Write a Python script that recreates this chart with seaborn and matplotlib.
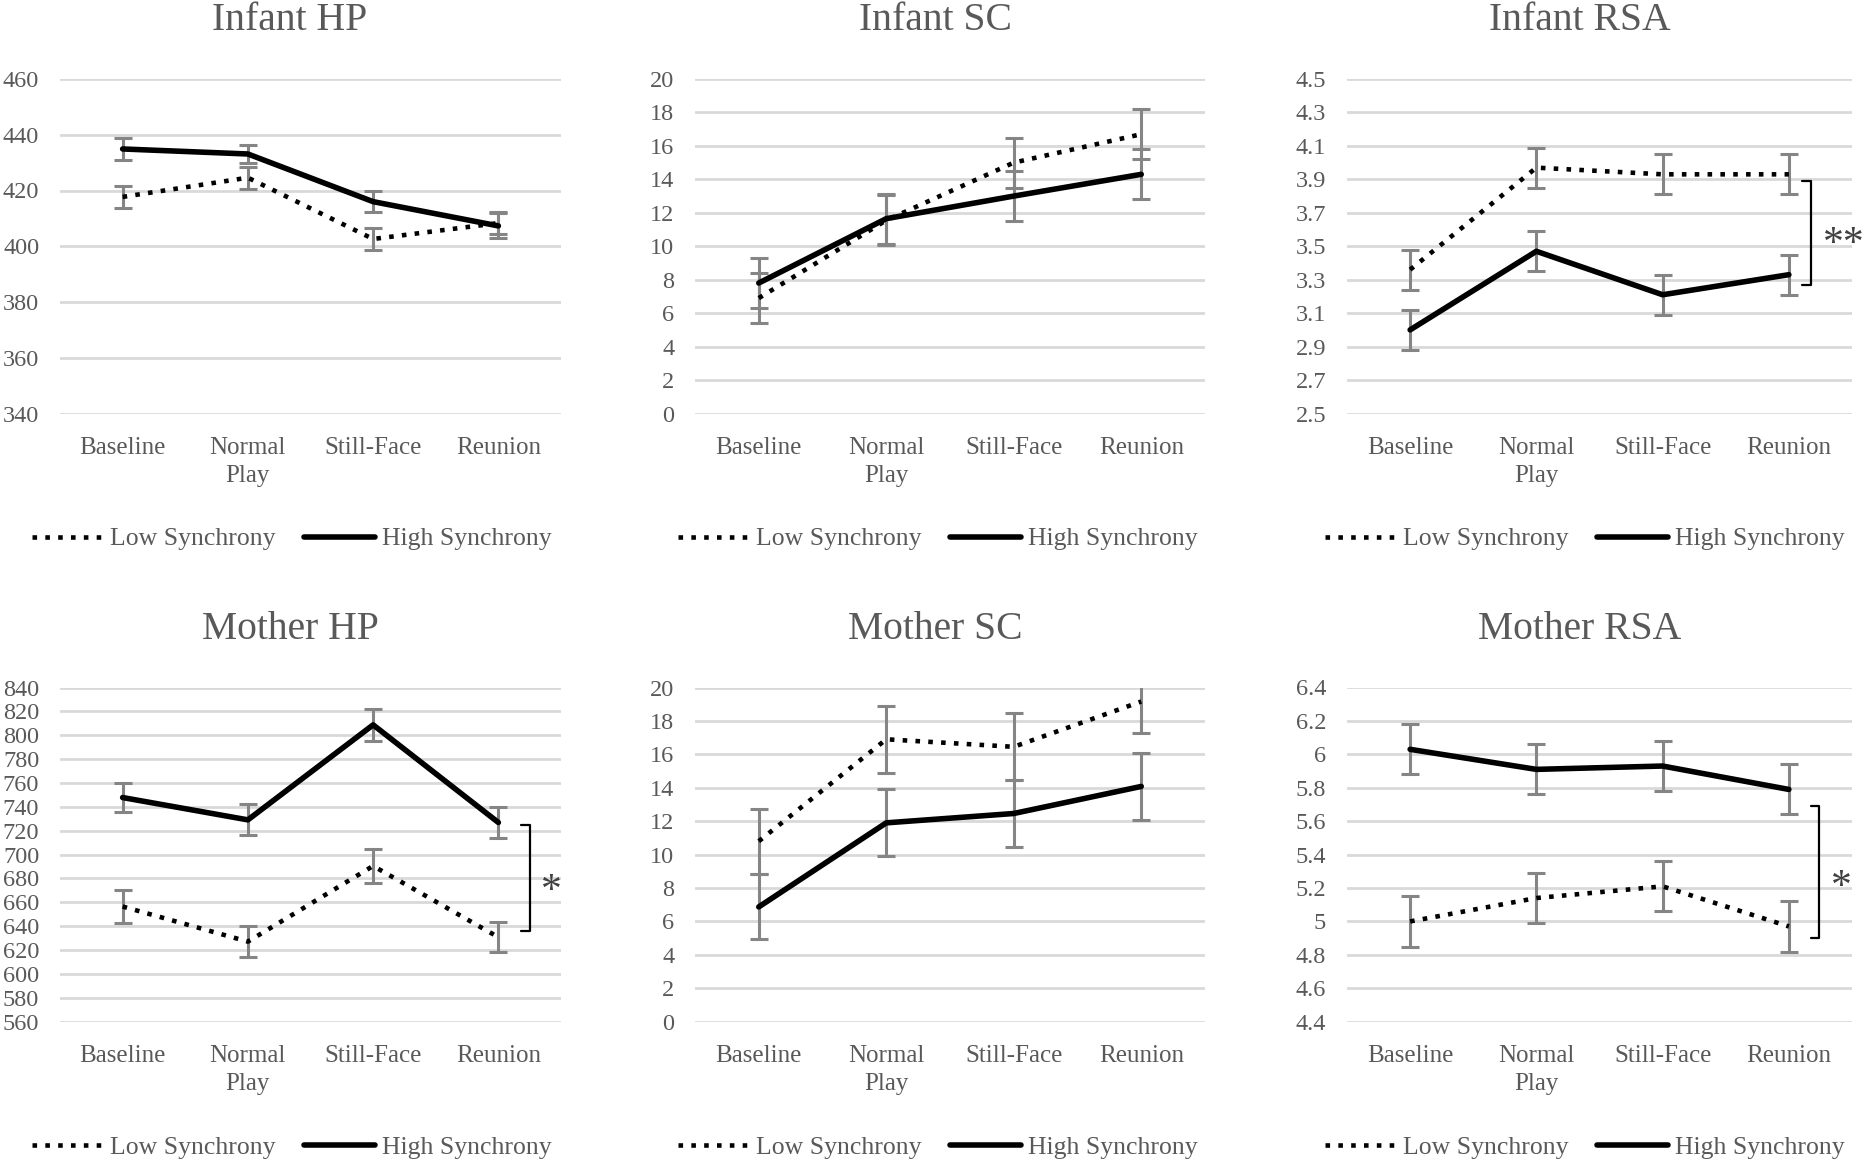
import numpy as np
import pandas as pd
import matplotlib
matplotlib.use("Agg")
import matplotlib.pyplot as plt
import matplotlib.transforms as mtransforms
import seaborn as sns

# ---- data ----
phases = ["Baseline", "Normal\nPlay", "Still-Face", "Reunion"]
groups = ["Low Synchrony", "High Synchrony"]

infant_hp_low = [417.7, 424.6, 402.6, 408.3]
infant_hp_low_se = [4.0, 3.9, 3.9, 4.0]
infant_hp_high = [434.9, 433.1, 416.0, 407.3]
infant_hp_high_se = [4.0, 3.2, 3.7, 4.5]

infant_sc_low = [6.9, 11.55, 15.0, 16.7]
infant_sc_low_se = [1.5, 1.5, 1.5, 1.5]
infant_sc_high = [7.8, 11.65, 13.0, 14.3]
infant_sc_high_se = [1.5, 1.5, 1.5, 1.5]

infant_rsa_low = [3.36, 3.97, 3.93, 3.93]
infant_rsa_low_se = [0.12, 0.12, 0.12, 0.12]
infant_rsa_high = [3.00, 3.47, 3.21, 3.33]
infant_rsa_high_se = [0.12, 0.12, 0.12, 0.12]

mother_hp_low = [656.5, 627.1, 690.5, 630.8]
mother_hp_low_se = [13.8, 13.1, 14.0, 12.6]
mother_hp_high = [747.8, 729.1, 808.7, 726.9]
mother_hp_high_se = [12.5, 13.0, 13.7, 12.6]

mother_sc_low = [10.8, 16.9, 16.45, 19.16]
mother_sc_low_se = [1.95, 2.0, 2.0, 1.9]
mother_sc_high = [6.87, 11.9, 12.46, 14.08]
mother_sc_high_se = [1.95, 2.0, 2.0, 2.0]

mother_rsa_low = [5.00, 5.14, 5.21, 4.97]
mother_rsa_low_se = [0.15, 0.15, 0.15, 0.15]
mother_rsa_high = [6.03, 5.91, 5.93, 5.79]
mother_rsa_high_se = [0.15, 0.15, 0.15, 0.15]

# y ranges: (min, max, step)
infant_hp_range = (340, 460, 20)
infant_sc_range = (0, 20, 2)
infant_rsa_range = (2.5, 4.5, 0.2)
mother_hp_range = (560, 840, 20)
mother_sc_range = (0, 20, 2)
mother_rsa_range = (4.4, 6.4, 0.2)

# significance brackets: (top value, bottom value, star y, label)
infant_rsa_sig = (3.89, 3.27, 3.51, "**")
mother_hp_sig = (724.5, 635.6, 669, "*")
mother_rsa_sig = (5.69, 4.90, 5.20, "*")

# ---- style ----
sns.set_style("white")
plt.rcParams["font.family"] = ["Liberation Serif", "DejaVu Serif"]
TXT = "#595959"
GRID = "#d9d9d9"
EBAR = "#858585"

W, H = 1866, 1161
fig = plt.figure(figsize=(W / 100, H / 100), dpi=100)

# pixel boxes (left, right) for columns, (top, bottom) for rows
cols = [(60, 561), (695, 1205), (1347, 1852)]
rows = [(79, 413.5), (687.5, 1021.7)]
title_x = [290, 935, 1580]
title_y = [30, 639]
legend_x = [292, 938, 1585]
legend_y = [539, 1148]

panels = [
    ("Infant HP", infant_hp_low, infant_hp_low_se, infant_hp_high, infant_hp_high_se, infant_hp_range, None),
    ("Infant SC", infant_sc_low, infant_sc_low_se, infant_sc_high, infant_sc_high_se, infant_sc_range, None),
    ("Infant RSA", infant_rsa_low, infant_rsa_low_se, infant_rsa_high, infant_rsa_high_se, infant_rsa_range,
     (infant_rsa_sig, 0.901, 0.919, 0.984)),
    ("Mother HP", mother_hp_low, mother_hp_low_se, mother_hp_high, mother_hp_high_se, mother_hp_range,
     (mother_hp_sig, 0.920, 0.938, 0.980)),
    ("Mother SC", mother_sc_low, mother_sc_low_se, mother_sc_high, mother_sc_high_se, mother_sc_range, None),
    ("Mother RSA", mother_rsa_low, mother_rsa_low_se, mother_rsa_high, mother_rsa_high_se, mother_rsa_range,
     (mother_rsa_sig, 0.919, 0.935, 0.980)),
]

pos = np.arange(len(phases))

for i, (title, low, low_se, high, high_se, yr, sig) in enumerate(panels):
    r, c = divmod(i, 3)
    x0, x1 = cols[c]
    y0, y1 = rows[r]
    ax = fig.add_axes([x0 / W, 1 - y1 / H, (x1 - x0) / W, (y1 - y0) / H])

    df = pd.DataFrame({
        "pos": np.concatenate([pos, pos]),
        "value": low + high,
        "se": low_se + high_se,
        "group": [groups[0]] * 4 + [groups[1]] * 4,
    })

    # error bars under the lines
    for g in groups:
        sub = df[df["group"] == g]
        ax.errorbar(sub["pos"], sub["value"], yerr=sub["se"], fmt="none",
                    ecolor=EBAR, elinewidth=2.2, capsize=6.5, capthick=2.2, zorder=2)

    sns.lineplot(data=df[df["group"] == groups[0]], x="pos", y="value", ax=ax,
                 color="black", linewidth=3.3, linestyle=(0, (1, 1.8)),
                 dash_capstyle="butt", errorbar=None, zorder=3, label=groups[0])
    low_line = ax.lines[-1]
    sns.lineplot(data=df[df["group"] == groups[1]], x="pos", y="value", ax=ax,
                 color="black", linewidth=4, errorbar=None, zorder=3, label=groups[1])
    high_line = ax.lines[-1]
    ax.get_legend().remove()

    ymin, ymax, step = yr
    ticks = np.round(np.arange(ymin, ymax + step / 2, step), 2)
    ax.set_ylim(ymin, ymax)
    ax.set_yticks(ticks)
    ax.set_yticklabels([f"{t:g}" for t in ticks])
    ax.set_xlim(-0.5, 3.5)
    ax.set_xticks(pos)
    ax.set_xticklabels(phases, linespacing=1.32)
    ax.set_xlabel("")
    ax.set_ylabel("")

    ax.grid(axis="y", color=GRID, linewidth=2.0, zorder=0)
    ax.grid(axis="x", visible=False)
    ax.set_axisbelow(True)
    for s in ax.spines.values():
        s.set_visible(False)
    ax.tick_params(axis="y", length=0, pad=15, labelsize=17.5, labelcolor=TXT)
    ax.tick_params(axis="x", length=0, pad=17, labelsize=18, labelcolor=TXT)

    fig.text(title_x[c] / W, 1 - title_y[r] / H, title, ha="center",
             va="baseline", fontsize=28.5, color=TXT)

    ax.legend([low_line, high_line], groups, loc="center",
              bbox_to_anchor=(legend_x[c] / W, 1 - legend_y[r] / H),
              bbox_transform=fig.transFigure, ncol=2, frameon=False,
              fontsize=18.5, handlelength=2.75, handletextpad=0.3,
              columnspacing=1.1, labelcolor=TXT)

    if sig is not None:
        (top, bot, star_y, label), xt, xl, xs = sig
        tr = mtransforms.blended_transform_factory(ax.transAxes, ax.transData)
        ax.plot([xt, xl, xl, xt], [top, top, bot, bot], transform=tr,
                color="black", linewidth=1.6, clip_on=False, zorder=4)
        ax.text(xs, star_y, label, transform=tr, ha="center", va="center",
                fontsize=30, color="#404040", clip_on=False)

fig.savefig("out.png", dpi=100, facecolor="white")
